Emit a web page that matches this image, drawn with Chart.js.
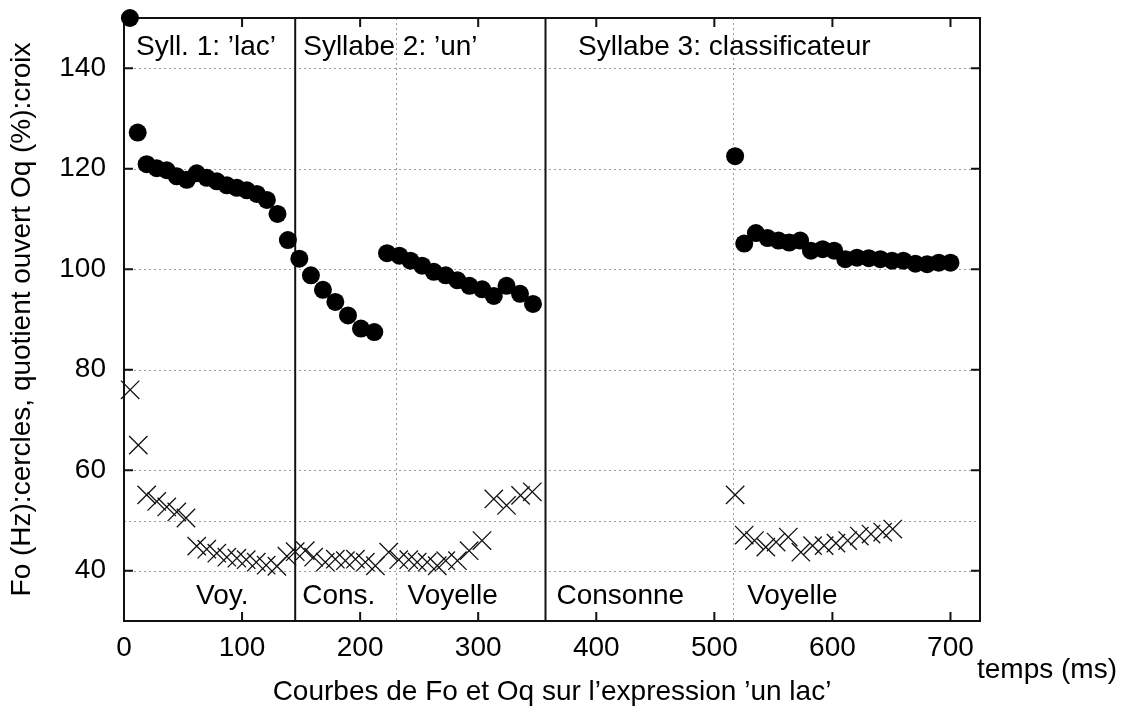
<!DOCTYPE html>
<html>
<head>
<meta charset="utf-8">
<script src="https://cdn.jsdelivr.net/npm/chart.js@4/dist/chart.umd.min.js"></script>
<style>
  html, body { margin: 0; padding: 0; background: #fff; }
  #wrap { width: 1126px; height: 713px; }
</style>
</head>
<body>
<div id="wrap"><canvas id="foChart"></canvas></div>
<script>
// Fo (Hz) : cercles
var foTimes = [5, 11.6, 19.2, 27.7, 36.2, 44.7, 53.2, 61.6, 70.1, 78.6, 87.1, 95.6, 104.1, 112.5, 121, 130, 138.8,
  148.5, 158.3, 168.5, 179, 189.7, 200.7, 212,
  222.8, 233.2, 242.6, 252.5, 262.4, 272.5, 282.4, 292.6, 303.4, 313.2, 324, 335.4, 346.4,
  517.6, 525.3, 535.2, 545.1, 554.4, 563.4, 572.7, 581.8, 591.7, 601.5, 610.9, 620.8, 630.8, 640.6, 650.5, 660.1, 670.3, 680.2, 690.1, 700];
var foValues = [150, 127.2, 120.9, 120.1, 119.7, 118.5, 117.8, 119.1, 118.2, 117.5, 116.7, 116.2, 115.7, 115, 113.8, 111, 105.8,
  102.1, 98.8, 95.9, 93.5, 90.8, 88.2, 87.5,
  103.2, 102.7, 101.7, 100.7, 99.5, 98.8, 97.8, 96.7, 96, 94.7, 96.7, 95.1, 93.1,
  122.5, 105.1, 107.2, 106.2, 105.7, 105.3, 105.7, 103.7, 104, 103.7, 102, 102.3, 102.2, 102, 101.7, 101.7, 101.1, 101, 101.3, 101.3];

// Oq (%) : croix
var oqTimes = [5.2, 12.1, 19.2, 27.7, 36.2, 44.7, 52.5, 61.6, 70.1, 78.6, 87.1, 95.6, 103.5, 112, 120.4, 129.5, 138, 145,
  153.5, 160.6, 170.5, 179, 187.5, 196, 204.4, 212.9, 224.2, 232.7, 241.2, 248.3, 256.8, 265.3, 272.5, 282.4, 292.3, 303.2, 313.2, 324, 335.9, 345.8,
  517.6, 525.3, 534, 543.6, 552.3, 562.6, 573.3, 583.2, 593, 603, 612.9, 622.8, 632.7, 642.6, 651.1];
var oqValues = [76, 65, 55.1, 53.8, 52.7, 51.7, 50.5, 44.9, 44.3, 43.5, 42.7, 42.5, 42.2, 41.7, 41.1, 40.9, 42.9, 43.8,
  44, 42.7, 41.7, 42.3, 42, 42.3, 41.7, 41, 43.7, 42.2, 42.2, 41.7, 41.7, 41, 42, 42, 44, 46, 54.3, 53, 55, 55.7,
  55.1, 47.1, 46, 44.7, 45.7, 46.7, 43.7, 45, 45, 45.5, 46, 46.9, 47.3, 47.7, 48.3];

var xTicks = [0, 100, 200, 300, 400, 500, 600, 700];
var yTicks = [40, 60, 80, 100, 120, 140];
var yGrid = [40, 50, 60, 80, 100, 120, 140];
var syllableBounds = [145, 357];
var phoneBounds = [230, 516];

var syllableLabels = ["Syll. 1: \u2019lac\u2019", "Syllabe 2: \u2019un\u2019", "Syllabe 3: classificateur"];
var phoneLabels = ["Voy.", "Cons.", "Voyelle", "Consonne", "Voyelle"];

var FONT = "28px 'Liberation Sans', Arial, sans-serif";

function toPoints(xs, ys) {
  return xs.map(function (x, i) { return { x: x, y: ys[i] }; });
}

var framePlugin = {
  id: 'frame',
  beforeDatasetsDraw: function (chart) {
    var ctx = chart.ctx;
    var a = chart.chartArea;
    var xs = chart.scales.x;
    var ys = chart.scales.y;

    ctx.save();
    // dotted grid
    ctx.strokeStyle = '#9a9a9a';
    ctx.lineWidth = 1;
    ctx.setLineDash([2, 3]);
    yGrid.forEach(function (v) {
      var y = Math.round(ys.getPixelForValue(v)) + 0.5;
      ctx.beginPath(); ctx.moveTo(a.left, y); ctx.lineTo(a.right, y); ctx.stroke();
    });
    phoneBounds.forEach(function (v) {
      var x = Math.round(xs.getPixelForValue(v)) + 0.5;
      ctx.beginPath(); ctx.moveTo(x, a.top); ctx.lineTo(x, a.bottom); ctx.stroke();
    });
    ctx.setLineDash([]);

    // syllable boundaries
    ctx.strokeStyle = '#111';
    ctx.lineWidth = 2;
    syllableBounds.forEach(function (v) {
      var x = xs.getPixelForValue(v);
      ctx.beginPath(); ctx.moveTo(x, a.top); ctx.lineTo(x, a.bottom); ctx.stroke();
    });

    // border + inward ticks
    ctx.strokeRect(a.left, a.top, a.right - a.left, a.bottom - a.top);
    var tl = 9;
    xTicks.forEach(function (v) {
      var x = xs.getPixelForValue(v);
      ctx.beginPath();
      ctx.moveTo(x, a.bottom); ctx.lineTo(x, a.bottom - tl);
      ctx.moveTo(x, a.top); ctx.lineTo(x, a.top + tl);
      ctx.stroke();
    });
    yTicks.forEach(function (v) {
      var y = ys.getPixelForValue(v);
      ctx.beginPath();
      ctx.moveTo(a.left, y); ctx.lineTo(a.left + tl, y);
      ctx.moveTo(a.right, y); ctx.lineTo(a.right - tl, y);
      ctx.stroke();
    });

    // labels
    ctx.fillStyle = '#000';
    ctx.font = FONT;
    ctx.textBaseline = 'middle';
    ctx.textAlign = 'left';
    var topY = a.top + 29;
    ctx.fillText(syllableLabels[0], a.left + 12, topY);
    ctx.fillText(syllableLabels[1], xs.getPixelForValue(syllableBounds[0]) + 8, topY);
    ctx.fillText(syllableLabels[2], 578, topY);

    var botY = a.bottom - 25;
    ctx.fillText(phoneLabels[0], 196, botY);
    ctx.fillText(phoneLabels[1], xs.getPixelForValue(syllableBounds[0]) + 7, botY);
    ctx.fillText(phoneLabels[2], xs.getPixelForValue(phoneBounds[0]) + 12, botY);
    ctx.fillText(phoneLabels[3], xs.getPixelForValue(syllableBounds[1]) + 11, botY);
    ctx.fillText(phoneLabels[4], xs.getPixelForValue(phoneBounds[1]) + 14, botY);

    // axis titles
    ctx.fillText('temps (ms)', 977, 670);
    ctx.textAlign = 'center';
    ctx.fillText('Courbes de Fo et Oq sur l\u2019expression \u2019un lac\u2019', (a.left + a.right) / 2, 692);
    ctx.translate(22, (a.top + a.bottom) / 2);
    ctx.rotate(-Math.PI / 2);
    ctx.fillText('Fo (Hz):cercles, quotient ouvert Oq (%):croix', 0, 0);
    ctx.restore();
  }
};

var chart = new Chart(document.getElementById('foChart'), {
  type: 'scatter',
  data: {
    datasets: [
      {
        label: 'Fo',
        data: toPoints(foTimes, foValues),
        pointStyle: 'circle',
        pointRadius: 9,
        pointBackgroundColor: '#000',
        pointBorderColor: '#000',
        pointBorderWidth: 0,
        clip: false
      },
      {
        label: 'Oq',
        data: toPoints(oqTimes, oqValues),
        pointStyle: 'crossRot',
        pointRadius: 13,
        pointBorderColor: '#111',
        pointBorderWidth: 1.3,
        clip: false
      }
    ]
  },
  options: {
    responsive: true,
    maintainAspectRatio: false,
    animation: false,
    events: [],
    layout: { padding: { top: 18, right: 146, left: 0, bottom: 0 } },
    plugins: {
      legend: { display: false },
      tooltip: { enabled: false }
    },
    scales: {
      x: {
        type: 'linear',
        min: 0,
        max: 725,
        grid: { display: false, drawTicks: false },
        border: { display: false },
        ticks: {
          stepSize: 100,
          includeBounds: false,
          padding: 10,
          color: '#000',
          font: { family: "'Liberation Sans', Arial, sans-serif", size: 28 },
          maxRotation: 0,
          autoSkip: false,
          callback: function (v) { return xTicks.indexOf(v) >= 0 ? String(v) : ''; }
        },
        afterFit: function (s) { s.height = 92; s.paddingLeft = 0; s.paddingRight = 0; }
      },
      y: {
        type: 'linear',
        min: 30,
        max: 150,
        grid: { display: false, drawTicks: false },
        border: { display: false },
        ticks: {
          stepSize: 10,
          padding: 18,
          color: '#000',
          font: { family: "'Liberation Sans', Arial, sans-serif", size: 28 },
          callback: function (v) { return yTicks.indexOf(v) >= 0 ? String(v) : ''; }
        },
        afterFit: function (s) { s.width = 124; s.paddingTop = 0; s.paddingBottom = 0; }
      }
    }
  },
  plugins: [framePlugin]
});
</script>
</body>
</html>
